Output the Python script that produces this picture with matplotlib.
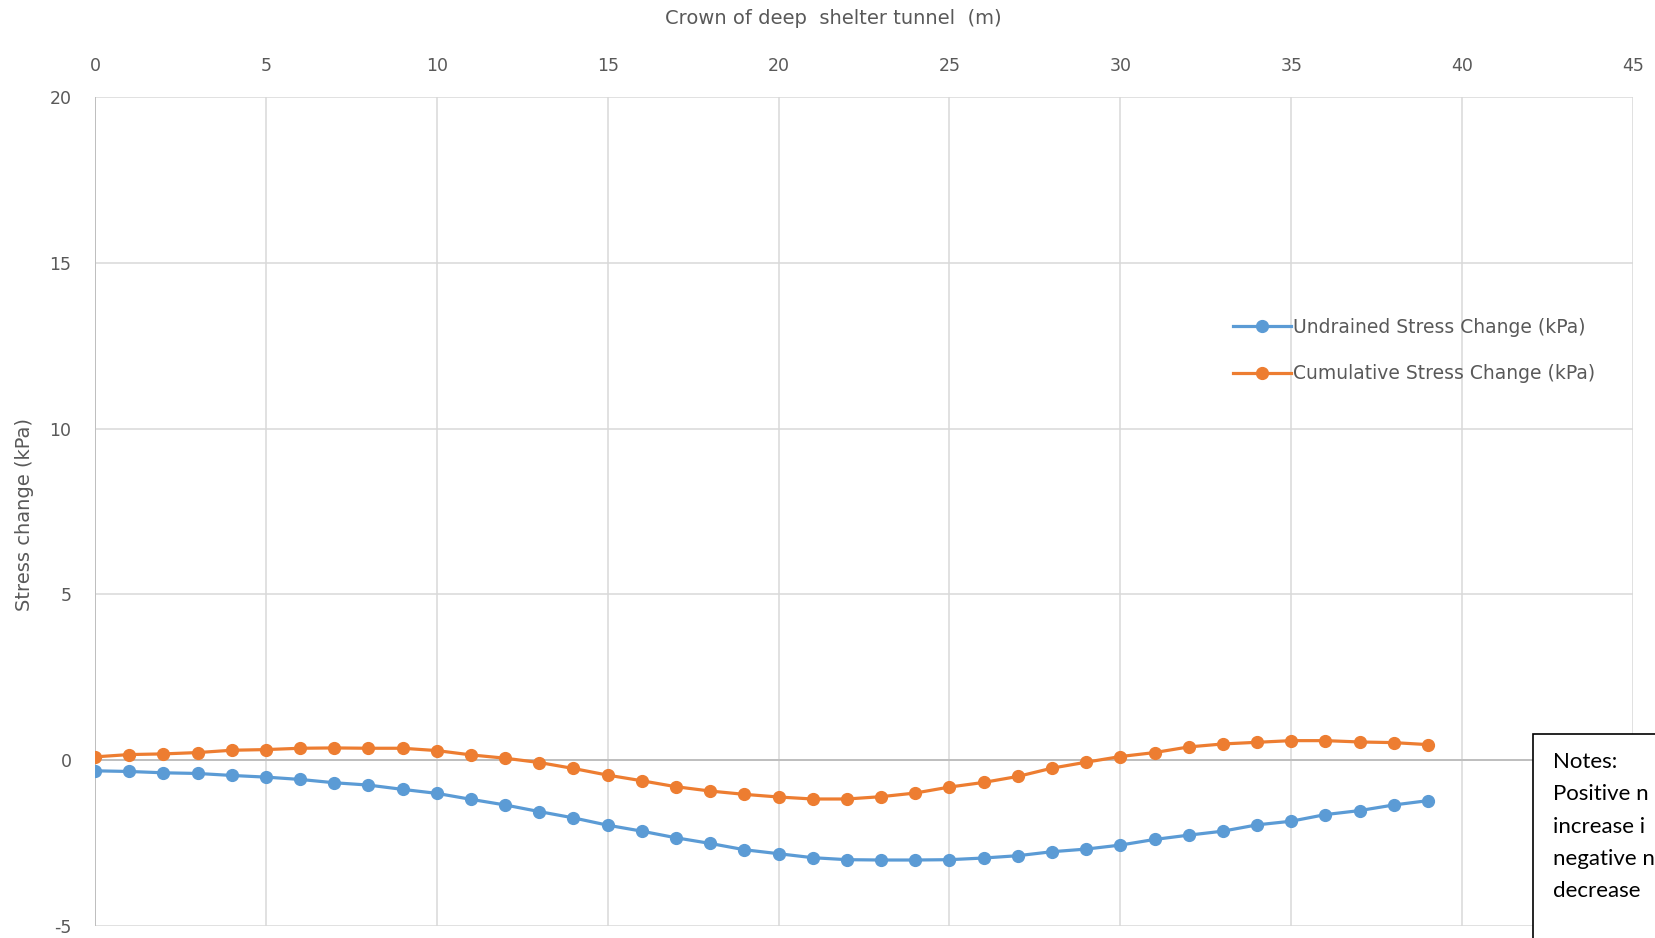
import numpy as np
import matplotlib.pyplot as plt
from matplotlib.patches import Rectangle

# distance along crown (m)
distance = list(range(0, 40))

undrained = [-0.32, -0.34, -0.38, -0.40, -0.46, -0.51, -0.58, -0.68, -0.75, -0.88,
             -1.00, -1.18, -1.35, -1.55, -1.74, -1.96, -2.14, -2.34, -2.51, -2.70,
             -2.82, -2.94, -3.00, -3.01, -3.01, -3.00, -2.95, -2.88, -2.76, -2.68,
             -2.56, -2.39, -2.26, -2.14, -1.95, -1.84, -1.64, -1.52, -1.35, -1.22]

cumulative = [0.10, 0.17, 0.19, 0.23, 0.30, 0.32, 0.36, 0.37, 0.36, 0.36,
              0.29, 0.16, 0.06, -0.07, -0.25, -0.45, -0.62, -0.80, -0.93, -1.03,
              -1.11, -1.17, -1.17, -1.10, -0.99, -0.81, -0.67, -0.49, -0.24, -0.06,
              0.11, 0.23, 0.40, 0.49, 0.54, 0.59, 0.59, 0.55, 0.53, 0.47]

x_ticks = [0, 5, 10, 15, 20, 25, 30, 35, 40, 45]
y_ticks = [-5, 0, 5, 10, 15, 20]

# the notes box runs off the edge of the picture, only this much shows
notes_lines = ["Notes:",
               "Positive n",
               "increase i",
               "negative n",
               "decrease"]

plt.rcParams['font.family'] = ['DejaVu Sans']
plt.rcParams['axes.unicode_minus'] = False
W, H = 1655, 938
fig = plt.figure(figsize=(W / 100, H / 100), dpi=100)
ax = fig.add_axes([95 / W, 1 - 926 / H, (1633 - 95) / W, (926 - 97) / H])

grid_col = '#d9d9d9'
txt_col = '#595959'

ax.set_xlim(0, 45)
ax.set_ylim(-5, 20)
ax.set_xticks(x_ticks)
ax.set_yticks(y_ticks)
ax.grid(True, color=grid_col, lw=1.1)
ax.set_axisbelow(True)
for s in ax.spines.values():
    s.set_visible(False)
ax.axhline(0, color='#bfbfbf', lw=1.4, zorder=1)
ax.axvline(0, color='#bfbfbf', lw=1.4, zorder=1)

ax.xaxis.tick_top()
ax.tick_params(axis='both', length=0, labelsize=12.5, labelcolor=txt_col)
ax.tick_params(axis='x', pad=16)
ax.tick_params(axis='y', pad=17)

ax.plot(distance, undrained, color='#5B9BD5', lw=2.3, marker='o', ms=8.5,
        label='Undrained Stress Change (kPa)', zorder=3)
ax.plot(distance, cumulative, color='#ED7D31', lw=2.3, marker='o', ms=8.5,
        label='Cumulative Stress Change (kPa)', zorder=3)

ax.legend(loc='upper left', bbox_to_anchor=((1233 - 95) / (1633 - 95), 1 - (318 - 97) / (926 - 97)),
          frameon=False, fontsize=13.5, labelcolor=txt_col, handlelength=3.1,
          handletextpad=0.1, labelspacing=1.45, borderpad=0, borderaxespad=0)

fig.text(833 / W, 1 - 19 / H, 'Crown of deep  shelter tunnel  (m)', ha='center', va='center',
         fontsize=14, color=txt_col)
fig.text(25 / W, 1 - 514 / H, 'Stress change (kPa)', ha='center', va='center',
         rotation=90, fontsize=14, color=txt_col)

# notes box, runs off the right/bottom edge
box = Rectangle((1533 / W, -0.1), 0.2, 0.1 + (1 - 734 / H), transform=fig.transFigure,
                facecolor='white', edgecolor='black', lw=1.2, zorder=10, clip_on=False)
fig.patches.append(box)
fig.text(1553 / W, 1 - 752 / H, '\n'.join(notes_lines), ha='left', va='top',
         fontsize=16, linespacing=1.77, color='black', zorder=11,
         family=['Lato', 'DejaVu Sans'])

fig.savefig('out.png', dpi=100)
